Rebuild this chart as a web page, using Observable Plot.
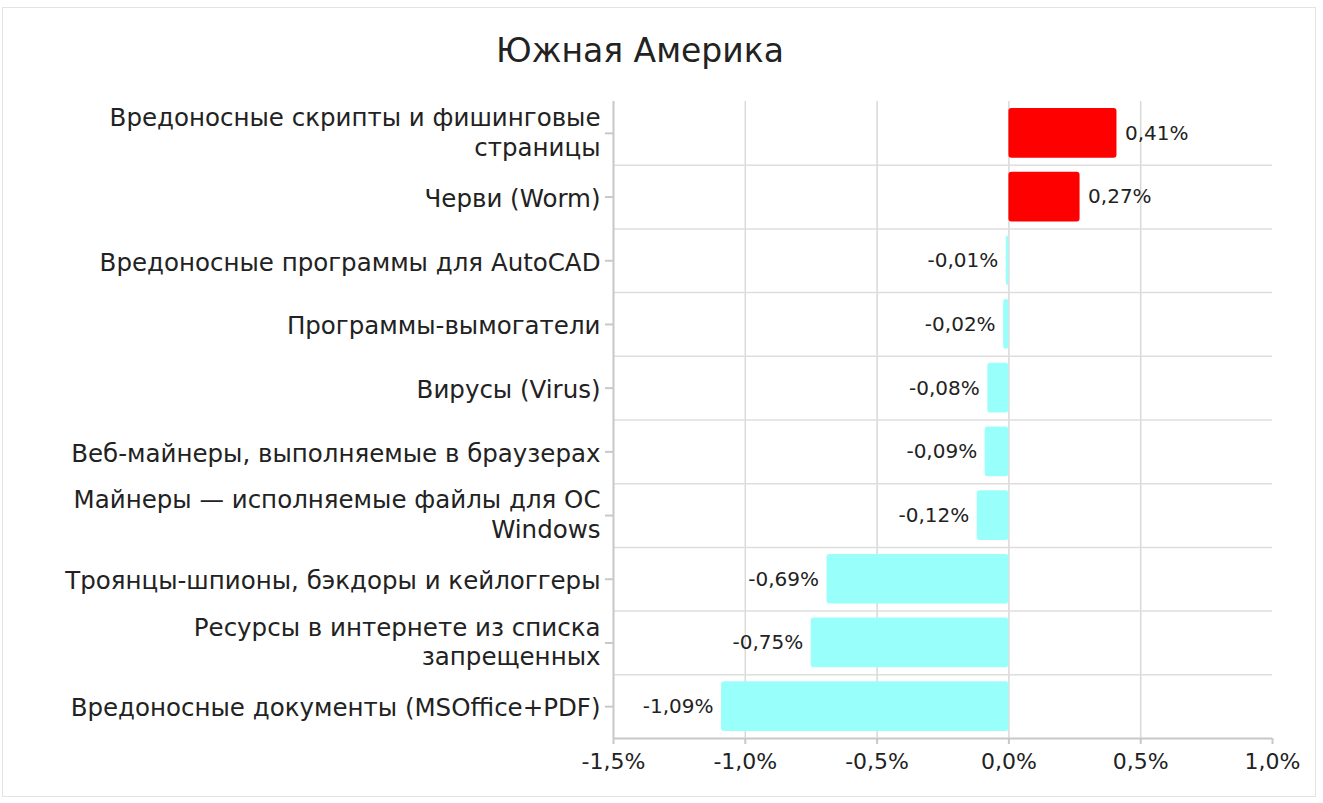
<!DOCTYPE html>
<html>
<head>
<meta charset="utf-8">
<script src="https://cdn.jsdelivr.net/npm/d3@7"></script>
<script src="https://cdn.jsdelivr.net/npm/@observablehq/plot@0.6"></script>
<style>
  html, body { margin: 0; padding: 0; background: #fff; }
  #wrap { position: relative; width: 1323px; height: 803px; overflow: hidden; }
  #frame { position: absolute; left: 2px; top: 7px; width: 1314px; height: 790px; border: 1px solid #e3e3e3; box-sizing: border-box; }
  #title { position: absolute; left: 0; top: 31px; width: 1280px; text-align: center;
           font-family: "DejaVu Sans", sans-serif;
           font-size: 33px; color: #222; }
  #chart { position: absolute; left: 0; top: 0; }
</style>
</head>
<body>
<div id="wrap">
  <div id="frame"></div>
  <div id="title">Южная Америка</div>
  <div id="chart"></div>
</div>
<script>
const categories = [
  "Вредоносные скрипты и фишинговые страницы",
  "Черви (Worm)",
  "Вредоносные программы для AutoCAD",
  "Программы-вымогатели",
  "Вирусы (Virus)",
  "Веб-майнеры, выполняемые в браузерах",
  "Майнеры — исполняемые файлы для ОС Windows",
  "Троянцы-шпионы, бэкдоры и кейлоггеры",
  "Ресурсы в интернете из списка запрещенных",
  "Вредоносные документы (MSOffice+PDF)"
];
const tickLabels = [
  "Вредоносные скрипты и фишинговые\nстраницы",
  "Черви (Worm)",
  "Вредоносные программы для AutoCAD",
  "Программы-вымогатели",
  "Вирусы (Virus)",
  "Веб-майнеры, выполняемые в браузерах",
  "Майнеры — исполняемые файлы для ОС\nWindows",
  "Троянцы-шпионы, бэкдоры и кейлоггеры",
  "Ресурсы в интернете из списка\nзапрещенных",
  "Вредоносные документы (MSOffice+PDF)"
];
const values = [0.41, 0.27, -0.01, -0.02, -0.08, -0.09, -0.12, -0.69, -0.75, -1.09];
const xTicks = [-1.5, -1.0, -0.5, 0.0, 0.5, 1.0];
const gridTicks = [-1.0, -0.5, 0.0, 0.5];

const data = categories.map((c, i) => ({cat: c, label: tickLabels[i], value: values[i]}));
const fmt = v => v.toFixed(2).replace(".", ",") + "%";
const fmtAxis = v => v.toFixed(1).replace(".", ",") + "%";
const labelOf = d => tickLabels[categories.indexOf(d)];
const singleLine = categories.filter(c => !labelOf(c).includes("\n"));
const multiLine = categories.filter(c => labelOf(c).includes("\n"));

const W = 1323, H = 803;
const mt = 101, mb = 65, ml = 613, mr = 51;
const step = (H - mt - mb) / categories.length;
const font = "DejaVu Sans, sans-serif";

const chart = Plot.plot({
  width: W,
  height: H,
  marginTop: mt,
  marginBottom: mb,
  marginLeft: ml,
  marginRight: mr,
  style: {fontFamily: font, color: "#222", background: "transparent"},
  x: {domain: [-1.5, 1.0]},
  y: {domain: categories, padding: 0, round: false},
  marks: [
    Plot.gridX(gridTicks, {stroke: "#d9d9d9", strokeOpacity: 1, strokeWidth: 1.5}),
    Plot.ruleY(categories.slice(0, -1), {y: d => d, dy: step / 2, x1: -1.5, x2: 1.0, stroke: "#dedede", strokeWidth: 1.5}),
    Plot.ruleY(categories.slice(-1), {y: d => d, dy: step / 2, x1: -1.5, x2: 1.0, stroke: "#c8c8c8", strokeWidth: 2}),
    Plot.ruleX([-1.5], {stroke: "#c8c8c8", strokeWidth: 2}),
    Plot.barX(data, {
      x: "value", y: "cat",
      fill: d => d.value >= 0 ? "#ff0000" : "#99fffa",
      insetTop: 7, insetBottom: 7, rx: 3
    }),
    Plot.text(data.filter(d => d.value >= 0), {
      x: "value", y: "cat", text: d => fmt(d.value),
      textAnchor: "start", dx: 8,
      fontSize: 20, fill: "#222"
    }),
    Plot.text(data.filter(d => d.value < 0), {
      x: "value", y: "cat", text: d => fmt(d.value),
      textAnchor: "end", dx: -8,
      fontSize: 20, fill: "#222"
    }),
    Plot.axisY(categories, {
      text: null, tickSize: 8,
      stroke: "#c8c8c8", strokeWidth: 2, label: null
    }),
    Plot.axisY(singleLine, {
      tickFormat: labelOf, tickSize: 0, tickPadding: 13, fontSize: 24.5,
      dy: 2, label: null, fill: "#222"
    }),
    Plot.axisY(multiLine, {
      tickFormat: labelOf, tickSize: 0, tickPadding: 13, fontSize: 24.5, lineHeight: 1.22,
      dy: -2, label: null, fill: "#222"
    }),
    Plot.axisX(xTicks, {
      tickFormat: fmtAxis, tickSize: 6, tickPadding: 9, fontSize: 22,
      stroke: "#c8c8c8", strokeWidth: 2, label: null, fill: "#222"
    })
  ]
});
document.getElementById("chart").appendChild(chart);
</script>
</body>
</html>
